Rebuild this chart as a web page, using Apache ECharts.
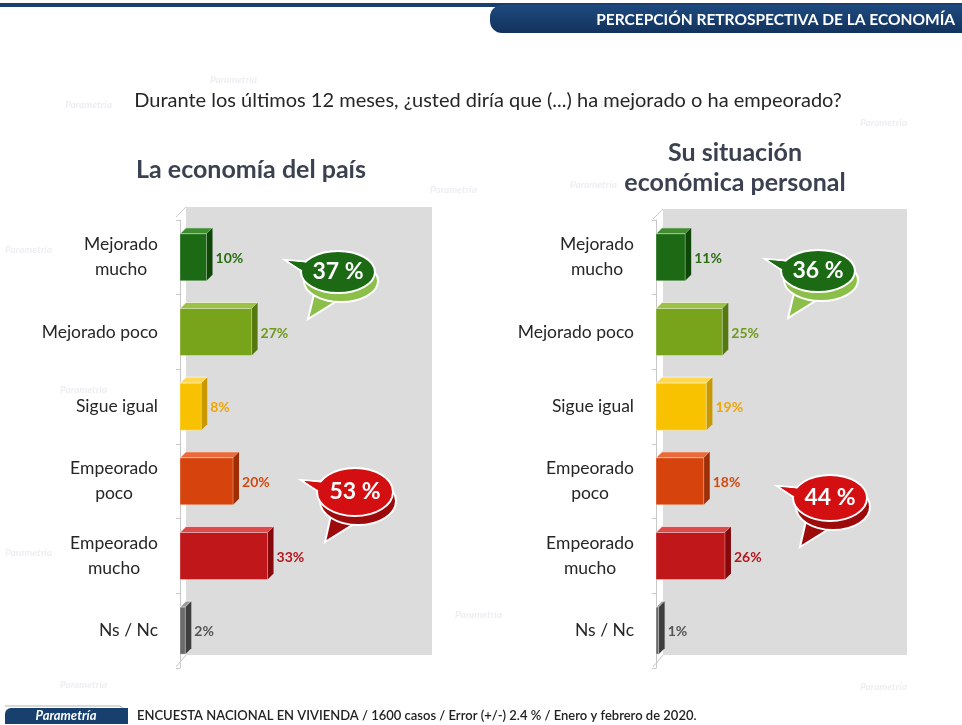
<!DOCTYPE html>
<html>
<head>
<meta charset="utf-8">
<script src="https://cdn.jsdelivr.net/npm/echarts@6/dist/echarts.min.js"></script>
<style>
  html, body { margin: 0; padding: 0; background: #fff; }
  #chart { width: 962px; height: 725px; }
</style>
</head>
<body>
<div id="chart"></div>
<script>
// datos
var categorias = ['Mejorado\nmucho', 'Mejorado poco', 'Sigue igual', 'Empeorado\npoco', 'Empeorado\nmucho', 'Ns / Nc'];
var economiaPais = [10, 27, 8, 20, 33, 2];
var situacionPersonal = [11, 25, 19, 18, 26, 1];
var totalesPais = [37, 53];       // mejorado, empeorado
var totalesPersonal = [36, 44];

// colores por categoria: frente, cara superior, lateral, etiqueta
var colores = [
  ['#1c6a14', '#3f8d2f', '#0e4608', '#2a6e13'],
  ['#78a41c', '#9cc245', '#55780f', '#6e9a1a'],
  ['#f9c200', '#ffd84d', '#c99800', '#f0a500'],
  ['#d6430d', '#ec6a3a', '#9e2e06', '#d24a12'],
  ['#c0171b', '#dc4a4a', '#85090c', '#b3161b'],
  ['#6b6b6b', '#9a9a9a', '#3e3e3e', '#555555']
];

var FONT = 'Lato, "Open Sans", "Noto Sans", sans-serif';

var chart = echarts.init(document.getElementById('chart'));

function barra3d(params, api) {
  var idx = api.value(0);
  var val = api.value(1);
  var p0 = api.coord([0, idx]);
  var p1 = api.coord([val, idx]);
  var h = 47, d = 6;
  var x0 = p0[0], x1 = p1[0];
  var yT = p0[1] - h / 2, yB = p0[1] + h / 2;
  var c = colores[idx];
  return {
    type: 'group',
    children: [
      { type: 'polygon', shape: { points: [[x0, yT], [x0 + d, yT - d], [x1 + d, yT - d], [x1, yT]] },
        style: { fill: c[1], stroke: '#ffffff', lineWidth: 0.6 } },
      { type: 'polygon', shape: { points: [[x1, yT], [x1 + d, yT - d], [x1 + d, yB - d], [x1, yB]] },
        style: { fill: c[2] } },
      { type: 'rect', shape: { x: x0, y: yT, width: x1 - x0, height: h },
        style: { fill: c[0], stroke: 'rgba(255,255,255,0.5)', lineWidth: 0.6 } },
      { type: 'text', x: x1 + d + 3, y: p0[1] + 1,
        style: { text: val + '%', fill: c[3], font: 'bold 14px ' + FONT, textVerticalAlign: 'middle' } }
    ]
  };
}

function serie(datos, i) {
  return {
    type: 'custom',
    xAxisIndex: i,
    yAxisIndex: i,
    renderItem: barra3d,
    encode: { x: 1, y: 0 },
    data: datos.map(function (v, k) { return [k, v]; }),
    z: 5
  };
}

function ejeY(i) {
  return {
    type: 'category',
    gridIndex: i,
    data: categorias,
    inverse: true,
    axisLine: { show: true, lineStyle: { color: '#c8c8c8' } },
    axisTick: { show: true, length: 4, lineStyle: { color: '#c8c8c8' } },
    axisLabel: {
      margin: 22,
      formatter: function (v) {
        return v.split('\n').map(function (l) { return '{c|' + l + '}'; }).join('\n');
      },
      rich: { c: { align: 'center', fontSize: 17.5, lineHeight: 25, color: '#262626', fontFamily: FONT } }
    }
  };
}

function burbuja(cx, cy, rx, ry, color, sombra, texto) {
  return {
    type: 'group',
    z: 20,
    children: [
      { type: 'polygon', shape: { points: [[cx - 22, cy + 14], [cx - 30, cy + ry + 26], [cx + 2, cy + ry + 6]] },
        style: { fill: sombra, stroke: '#fff', lineWidth: 2 } },
      { type: 'ellipse', shape: { cx: cx + 3, cy: cy + 9, rx: rx, ry: ry },
        style: { fill: sombra, stroke: '#fff', lineWidth: 2 } },
      { type: 'polygon', shape: { points: [[cx - rx + 10, cy - 10], [cx - rx - 16, cy - 12], [cx - rx + 14, cy + 8]] },
        style: { fill: color, stroke: '#fff', lineWidth: 2 } },
      { type: 'ellipse', shape: { cx: cx, cy: cy, rx: rx, ry: ry },
        style: { fill: color, stroke: '#fff', lineWidth: 2 } },
      { type: 'polygon', shape: { points: [[cx - rx + 9, cy - 9], [cx - rx - 13, cy - 11], [cx - rx + 13, cy + 6]] },
        style: { fill: color } },
      { type: 'text', x: cx, y: cy,
        style: { text: texto + ' %', fill: '#fff', font: 'bold 23px ' + FONT, textAlign: 'center', textVerticalAlign: 'middle' } }
    ]
  };
}

function marcaAgua(x, y) {
  return { type: 'text', x: x, y: y, z: 0,
    style: { text: 'Parametría', fill: '#eceef2', font: 'italic bold 10px ' + FONT, letterSpacing: 3 } };
}

function panel(x, y, w, h) {
  return {
    type: 'group', z: 1,
    children: [
      { type: 'rect', shape: { x: x, y: y, width: w, height: h }, style: { fill: '#dcdcdc' } },
      { type: 'polyline', shape: { points: [[x - 10, y + 10], [x, y]] }, style: { stroke: '#c8c8c8', lineWidth: 1 } },
      { type: 'polyline', shape: { points: [[x - 10, y + h + 12], [x, y + h]] }, style: { stroke: '#c8c8c8', lineWidth: 1 } }
    ]
  };
}

var option = {
  backgroundColor: '#ffffff',
  animation: false,
  grid: [
    { left: 180, width: 252, top: 220, height: 448 },
    { left: 656, width: 252, top: 220, height: 448 }
  ],
  xAxis: [
    { type: 'value', gridIndex: 0, min: 0, max: 95, show: false },
    { type: 'value', gridIndex: 1, min: 0, max: 95, show: false }
  ],
  yAxis: [ejeY(0), ejeY(1)],
  series: [serie(economiaPais, 0), serie(situacionPersonal, 1)],
  graphic: [
    marcaAgua(65, 100), marcaAgua(210, 75), marcaAgua(430, 185), marcaAgua(860, 118),
    marcaAgua(5, 245), marcaAgua(60, 385), marcaAgua(455, 610), marcaAgua(5, 548),
    marcaAgua(860, 682), marcaAgua(60, 680), marcaAgua(600, 100), marcaAgua(570, 180),
    panel(186, 207, 246, 448),
    panel(663, 209, 244, 446),
    // encabezado
    { type: 'rect', shape: { x: 0, y: 3, width: 962, height: 4 }, style: { fill: '#1a3f6e' } },
    { type: 'rect', shape: { x: 490, y: 5, width: 480, height: 28, r: [12, 0, 0, 12] },
      style: { fill: new echarts.graphic.LinearGradient(0, 0, 0, 1, [
        { offset: 0, color: '#1e4a80' }, { offset: 1, color: '#12325c' }]) } },
    { type: 'text', x: 955, y: 20, z: 10,
      style: { text: 'PERCEPCIÓN RETROSPECTIVA DE LA ECONOMÍA', fill: '#fff', font: 'bold 15.5px ' + FONT,
        textAlign: 'right', textVerticalAlign: 'middle' } },
    // pregunta y titulos
    { type: 'text', x: 488, y: 101,
      style: { text: 'Durante los últimos 12 meses, ¿usted diría que (...) ha mejorado o ha empeorado?',
        fill: '#262626', font: '20px ' + FONT, textAlign: 'center', textVerticalAlign: 'middle' } },
    { type: 'text', x: 251, y: 170,
      style: { text: 'La economía del país', fill: '#3b4150', font: 'bold 25px ' + FONT,
        textAlign: 'center', textVerticalAlign: 'middle' } },
    { type: 'text', x: 735, y: 168,
      style: { text: 'Su situación\neconómica personal', fill: '#3b4150', font: 'bold 25px ' + FONT,
        lineHeight: 30, textAlign: 'center', textVerticalAlign: 'middle' } },
    // burbujas de totales
    burbuja(338, 272, 37, 21, '#1c6a14', '#8cbf4a', totalesPais[0]),
    burbuja(355, 492, 38, 24, '#d40f12', '#9c0a0c', totalesPais[1]),
    burbuja(818, 271, 37, 21, '#1c6a14', '#8cbf4a', totalesPersonal[0]),
    burbuja(830, 498, 37, 23, '#d40f12', '#9c0a0c', totalesPersonal[1]),
    // pie
    { type: 'polyline', shape: { points: [[5, 706], [120, 706], [128, 712]] }, style: { stroke: '#b5b5b5', lineWidth: 1 } },
    { type: 'rect', shape: { x: 5, y: 708, width: 123, height: 16, r: [6, 0, 0, 0] }, style: { fill: '#17406f' } },
    { type: 'text', x: 66, y: 716,
      style: { text: 'Parametría', fill: '#fff', font: 'italic bold 13px ' + FONT, letterSpacing: 3,
        textAlign: 'center', textVerticalAlign: 'middle' } },
    { type: 'text', x: 137, y: 716,
      style: { text: 'ENCUESTA NACIONAL EN VIVIENDA / 1600 casos / Error (+/-) 2.4 % / Enero y febrero de 2020.',
        fill: '#222', font: '600 13px ' + FONT, textVerticalAlign: 'middle' } }
  ]
};

chart.setOption(option);
</script>
</body>
</html>
